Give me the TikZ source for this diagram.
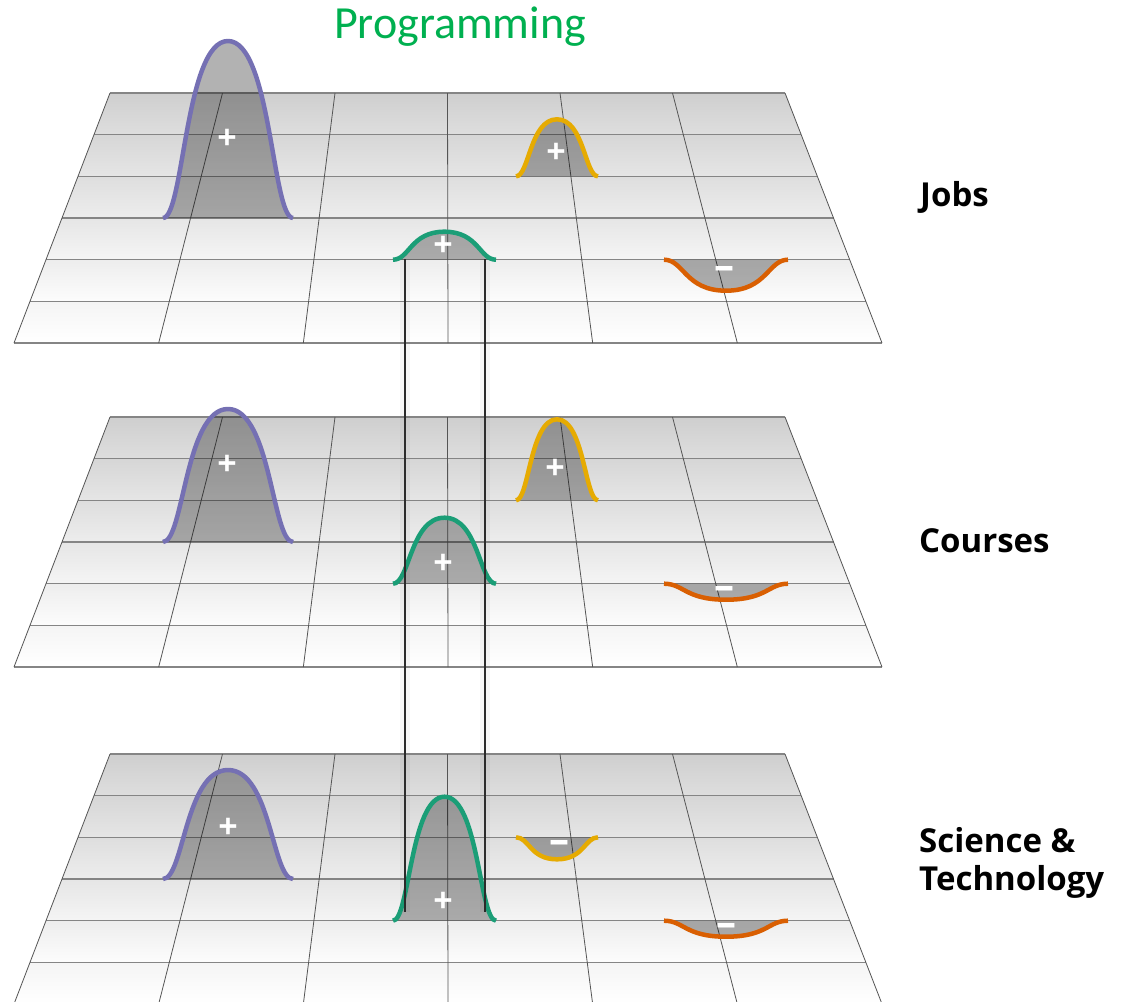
\documentclass[tikz,border=0pt]{standalone}
\usepackage{fontspec}
\setmainfont{Open Sans}
\newfontfamily\carlito{Carlito}
\definecolor{dkpurple}{HTML}{7570B3}
\definecolor{dkyellow}{HTML}{E6AB02}
\definecolor{dkgreen}{HTML}{1B9E77}
\definecolor{dkorange}{HTML}{D95F02}
\definecolor{progreen}{HTML}{00B050}
\definecolor{hgridcol}{HTML}{858585}
\definecolor{vgridcol}{HTML}{555555}
\definecolor{linkcol}{HTML}{2A2A2A}

\tikzset{
  bumpfill/.style={fill=black, fill opacity=0.3},
  bumpline/.style={line width=4.5pt, line cap=butt, line join=round},
  hgridline/.style={draw=hgridcol, line width=1.2pt},
  vgridline/.style={draw=vgridcol, line width=0.8pt},
  layerlabel/.style={font=\bfseries\fontsize{33}{38}\selectfont, anchor=base west, inner sep=0pt, align=left},
  signlabel/.style={font=\bfseries\fontsize{34}{34}\selectfont, text=white, inner sep=0pt},
  minuslabel/.style={font=\bfseries\fontsize{40}{40}\selectfont, text=white, inner sep=0pt},
  linkline/.style={draw=linkcol, line width=1.6pt},
  linkshadow/.style={draw=black, line width=10pt, opacity=0.035},
}

% one grid plane, #1 = y of its top edge
\newcommand{\gridplane}[1]{%
  \foreach \k in {0,...,5}{%
    \pgfmathsetmacro\ya{#1+\k*250/6}%
    \pgfmathsetmacro\yb{#1+(\k+1)*250/6}%
    \pgfmathsetmacro\xla{110-96*\k/6}%
    \pgfmathsetmacro\xlb{110-96*(\k+1)/6}%
    \pgfmathsetmacro\xra{785+97*\k/6}%
    \pgfmathsetmacro\xrb{785+97*(\k+1)/6}%
    \pgfmathtruncatemacro\ta{19-3*\k}%
    \pgfmathtruncatemacro\tb{max(13-3*\k,0)}%
    \shade[top color=black!\ta!white, bottom color=black!\tb!white]
      (\xla,\ya) -- (\xra,\ya) -- (\xrb,\yb) -- (\xlb,\yb) -- cycle;
  }%
  \foreach \k in {0,...,6}{%
    \pgfmathsetmacro\ya{#1+\k*250/6}%
    \pgfmathsetmacro\xla{110-96*\k/6}%
    \pgfmathsetmacro\xra{785+97*\k/6}%
    \draw[hgridline] (\xla,\ya) -- (\xra,\ya);
  }%
  \foreach \j in {0,...,6}{%
    \pgfmathsetmacro\xt{110+112.5*\j}%
    \pgfmathsetmacro\xb{14+144.667*\j}%
    \draw[vgridline] (\xt,#1) -- (\xb,#1+250);
  }%
}

% bump: #1 colour, #2 centre x, #3 base y, #4 half width, #5 height (negative = dip)
\newcommand{\bump}[5]{%
  \pgfmathsetmacro\bxl{#2-#4}\pgfmathsetmacro\bxr{#2+#4}%
  \pgfmathsetmacro\bca{#2-0.68*#4}\pgfmathsetmacro\bcb{#2-0.66*#4}%
  \pgfmathsetmacro\bcc{#2+0.66*#4}\pgfmathsetmacro\bcd{#2+0.68*#4}%
  \pgfmathsetmacro\btop{#3-(#5)}%
  \path[bumpfill] (\bxl,#3) .. controls (\bca,#3) and (\bcb,\btop) .. (#2,\btop)
     .. controls (\bcc,\btop) and (\bcd,#3) .. (\bxr,#3) -- cycle;
  \draw[#1, bumpline] (\bxl,#3) .. controls (\bca,#3) and (\bcb,\btop) .. (#2,\btop)
     .. controls (\bcc,\btop) and (\bcd,#3) .. (\bxr,#3);
}

\begin{document}
\begin{tikzpicture}[x=1pt, y=-1pt]
\path[use as bounding box] (0,0) rectangle (1126,1001);
\clip (0,0) rectangle (1126,1001);
\fill[white] (0,0) rectangle (1126,1001);

% ---------- Jobs ----------
\gridplane{93}
\bump{dkpurple}{228}{218}{65}{177}
\bump{dkyellow}{557}{176.3}{41}{57}
\bump{dkgreen}{444.5}{259.7}{51.5}{28}
\bump{dkorange}{726}{259.7}{62}{-31}
\node[signlabel] (s1) at (227,139) {+};
\node[signlabel] (s2) at (556,153) {+};
\node[signlabel] (s3) at (443,246) {+};
\node[minuslabel] (s4) at (724,273) {–};

% ---------- Courses ----------
\gridplane{417}
\bump{dkpurple}{228}{542}{65}{133}
\bump{dkyellow}{557}{500.3}{41}{81}
\bump{dkgreen}{444.5}{583.7}{51.5}{66}
\bump{dkorange}{726}{583.7}{62}{-16}
\node[signlabel] (s5) at (227,465) {+};
\node[signlabel] (s6) at (555,469) {+};
\node[signlabel] (s7) at (443,564) {+};
\node[minuslabel] (s8) at (724,593) {–};

% ---------- Science & Technology ----------
\gridplane{754}
\bump{dkpurple}{228}{879}{65}{109}
\bump{dkgreen}{444.5}{920.7}{51.5}{124}
\bump{dkyellow}{557}{837.3}{41}{-22}
\bump{dkorange}{726}{920.7}{62}{-16}
\node[signlabel] (s9) at (228,828) {+};
\node[signlabel] (s10) at (443,902) {+};
\node[minuslabel] (s11) at (559,847) {–};
\node[minuslabel] (s12) at (726,930) {–};

% ---------- link lines ----------
\coordinate (lt) at (405,259);
\coordinate (rt) at (485,259);
\coordinate (lb) at (405,912);
\coordinate (rb) at (485,912);
\draw[linkshadow] (lt) -- (lb);
\draw[linkshadow] (rt) -- (rb);
\draw[linkline] (lt) -- (lb);
\draw[linkline] (rt) -- (rb);

% ---------- labels ----------
\node[font=\carlito\fontsize{46}{52}\selectfont, text=progreen, anchor=base, inner sep=0pt] (title) at (460,38) {Programming};
\node[layerlabel] (jobs) at (920,206) {Jobs};
\node[layerlabel] (courses) at (919,552) {Courses};
\node[layerlabel] (scitech) at (919,852) {Science \&};
\node[layerlabel] (scitech2) at (919,890) {Technology};
\end{tikzpicture}
\end{document}
